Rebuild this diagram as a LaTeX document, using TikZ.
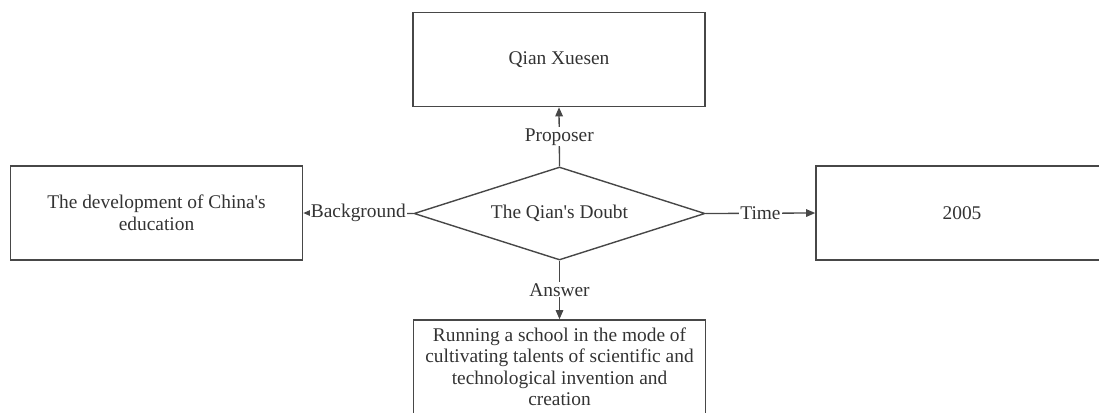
\documentclass[tikz,border=0pt]{standalone}
\usepackage{fontspec}
\setmainfont{Liberation Serif}[Ligatures=TeXOff]
\usetikzlibrary{arrows.meta,shapes.geometric}
\begin{document}
\begin{tikzpicture}[x=1pt,y=-1pt,
  every node/.style={font=\fontsize{19.4}{21.5}\selectfont, text=black!80},
  box/.style={draw=black!72, line width=1.6pt, minimum width=292pt,
    minimum height=94pt, inner sep=0pt, align=center},
  decision/.style={diamond, aspect=3.13, draw=black!72, line width=1.4pt,
    minimum width=291pt, minimum height=93pt, inner sep=0pt},
  conn/.style={draw=black!72, line width=1.3pt, -{Triangle[length=9pt,width=7.5pt]}},
  lbl/.style={fill=white, inner sep=1pt}]
  \useasboundingbox (0,0) rectangle (1099,412);

  % central question and the four facets around it
  \node[decision] (doubt) at (559.5,213.5) {The Qian's Doubt};
  \node[box] (proposer) at (559,59.5) {Qian Xuesen};
  \node[box] (bg) at (156.5,213) {The development of China's\\education};
  \node[box] (time) at (962,213) {2005};
  \node[box] (answer) at (559.5,367) {Running a school in the mode of\\cultivating talents of scientific and\\technological invention and\\creation};

  % labelled relations
  \draw[conn] (doubt.north) -- node[lbl] {Proposer} (proposer.south);
  \draw[conn] (doubt.west) -- node[lbl] {Background} (bg.east);
  \draw[conn] (doubt.east) -- node[lbl] {Time} (time.west);
  \draw[conn] (doubt.south) -- node[lbl] {Answer} (answer.north);
\end{tikzpicture}
\end{document}
